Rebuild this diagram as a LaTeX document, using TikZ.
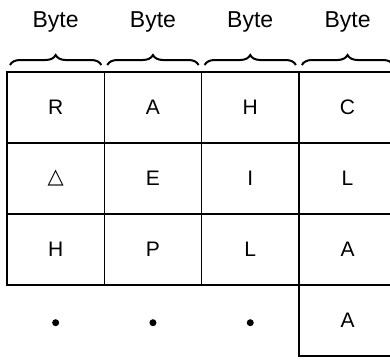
\documentclass[tikz,border=0pt]{standalone}
\usepackage{fontspec}
\setmainfont{Liberation Sans}
\newfontfamily\symfont{DejaVu Sans}
\usetikzlibrary{positioning,decorations.pathreplacing}

\begin{document}
\begin{tikzpicture}[
  x=1pt, y=1pt,
  cell/.style={rectangle, draw, line width=1.6pt, minimum width=97.3pt, minimum height=71pt, outer sep=0pt, inner sep=0pt, font=\fontsize{21}{24}\selectfont},
  bytelabel/.style={font=\fontsize{23}{26}\selectfont},
  bytebrace/.style={decorate, decoration={brace, amplitude=10pt}, line width=2pt},
  blob/.style={circle, fill, inner sep=0pt, minimum size=7pt}
]
\useasboundingbox (0,0) rectangle (390,-359);

% First row
\node[cell] (c1r1) at (55.65,-107.5) {R};
\node[cell, right=0pt of c1r1] (c2r1) {A};
\node[cell, right=0pt of c2r1] (c3r1) {H};
\node[cell, right=0pt of c3r1] (c4r1) {C};

% Second row
\node[cell, below=0pt of c1r1] (c1r2) {\symfont △};
\node[cell, below=0pt of c2r1] (c2r2) {E};
\node[cell, below=0pt of c3r1] (c3r2) {I};
\node[cell, below=0pt of c4r1] (c4r2) {L};

% Third row
\node[cell, below=0pt of c1r2] (c1r3) {H};
\node[cell, below=0pt of c2r2] (c2r3) {P};
\node[cell, below=0pt of c3r2] (c3r3) {L};
\node[cell, below=0pt of c4r2] (c4r3) {A};

% Last row
\node[blob, below=34pt of c1r3] (dot1) {};
\node[blob, below=34pt of c2r3] (dot2) {};
\node[blob, below=34pt of c3r3] (dot3) {};
\node[cell, below=0pt of c4r3] (c4r4) {A};

% Byte labels
\node[bytelabel, above=36pt of c1r1] (byte1) {Byte};
\node[bytelabel, above=36pt of c2r1] (byte2) {Byte};
\node[bytelabel, above=36pt of c3r1] (byte3) {Byte};
\node[bytelabel, above=36pt of c4r1] (byte4) {Byte};

% Braces
\draw[bytebrace] ([xshift=3pt,yshift=7pt]c1r1.north west) -- ([xshift=-3pt,yshift=7pt]c1r1.north east);
\draw[bytebrace] ([xshift=3pt,yshift=7pt]c2r1.north west) -- ([xshift=-3pt,yshift=7pt]c2r1.north east);
\draw[bytebrace] ([xshift=3pt,yshift=7pt]c3r1.north west) -- ([xshift=-3pt,yshift=7pt]c3r1.north east);
\draw[bytebrace] ([xshift=3pt,yshift=7pt]c4r1.north west) -- ([xshift=-3pt,yshift=7pt]c4r1.north east);

\end{tikzpicture}
\end{document}
